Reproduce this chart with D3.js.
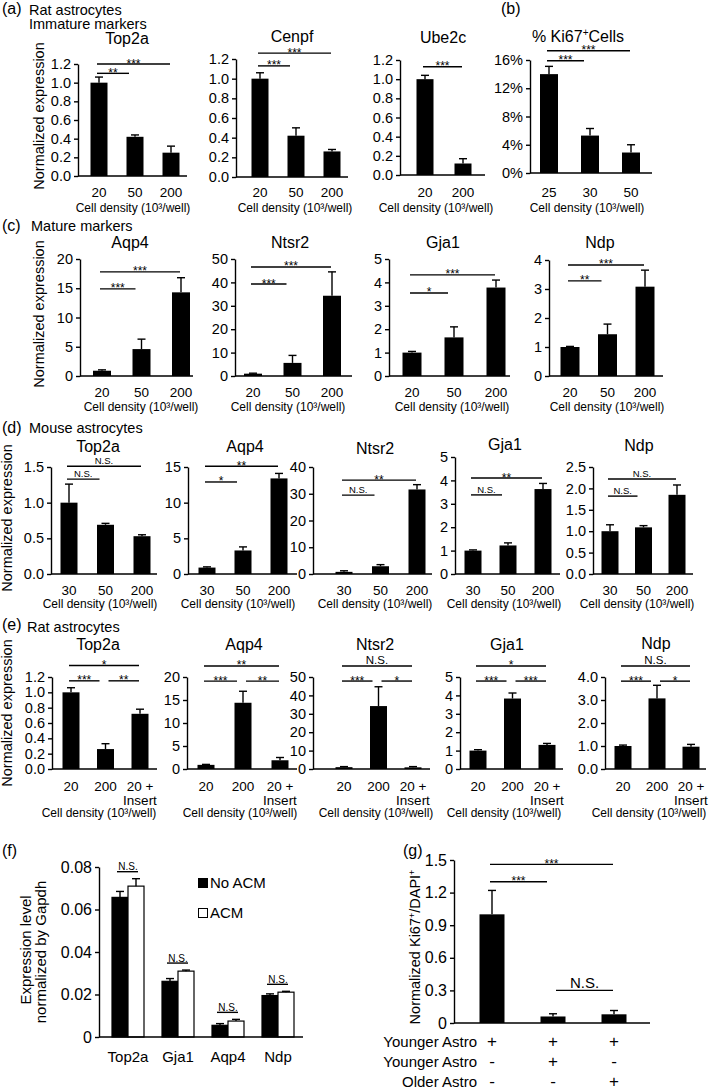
<!DOCTYPE html>
<html><head><meta charset="utf-8">
<script src="https://cdn.jsdelivr.net/npm/d3@7"></script>
<style>
body{margin:0;background:#fff}
text{font-family:"Liberation Sans",Arial,Helvetica,sans-serif;fill:#000}
</style>
</head><body>
<svg id="c" width="709" height="1091"></svg>
<script>
// ---------------- DATA ----------------
// (a) rat astrocytes, immature markers
const catsA = ["20", "50", "200"];
const catsA2 = ["20", "200"];
const top2aA = [1.0, 0.42, 0.25];
const top2aAErr = [0.06, 0.02, 0.07];
const top2aASig = [[0, 1, "**", 1.10], [0, 2, "***", 1.20]];
const cenpfA = [1.0, 0.42, 0.26];
const cenpfAErr = [0.06, 0.08, 0.02];
const cenpfASig = [[0, 1, "***", 1.13], [0, 2, "***", 1.26]];
const ube2cA = [1.0, 0.12];
const ube2cAErr = [0.04, 0.05];
const ube2cASig = [[0, 1, "***", 1.13]];
// (b) % Ki67+ cells
const catsB = ["25", "30", "50"];
const ki67B = [14.0, 5.3, 2.9];
const ki67BErr = [1.1, 1.0, 1.1];
const ki67BSig = [[0, 1, "***", 15.9], [0, 2, "***", 17.3]];
// (c) mature markers
const aqp4C = [0.9, 4.6, 14.3];
const aqp4CErr = [0.15, 1.7, 2.5];
const aqp4CSig = [[0, 1, "***", 14.9], [0, 2, "***", 17.8]];
const ntsr2C = [1.0, 5.6, 34.3];
const ntsr2CErr = [0.2, 3.2, 10.2];
const ntsr2CSig = [[0, 1, "***", 39.3], [0, 2, "***", 46.6]];
const gja1C = [1.0, 1.65, 3.78];
const gja1CErr = [0.05, 0.45, 0.32];
const gja1CSig = [[0, 1, "*", 3.55], [0, 2, "***", 4.32]];
const ndpC = [1.0, 1.44, 3.08];
const ndpCErr = [0.02, 0.35, 0.57];
const ndpCSig = [[0, 1, "**", 3.28], [0, 2, "***", 3.83]];
// (d) mouse astrocytes
const catsD = ["30", "50", "200"];
const top2aD = [1.0, 0.69, 0.53];
const top2aDErr = [0.26, 0.02, 0.02];
const top2aDSig = [[0, 1, "N.S.", 1.33], [0, 2, "N.S.", 1.51]];
const aqp4D = [0.9, 3.3, 13.4];
const aqp4DErr = [0.1, 0.5, 0.7];
const aqp4DSig = [[0, 1, "*", 12.9], [0, 2, "**", 15.1]];
const ntsr2D = [0.8, 2.9, 31.6];
const ntsr2DErr = [0.4, 0.6, 1.8];
const ntsr2DSig = [[0, 1, "N.S.", 29.5], [0, 2, "**", 35.1]];
const gja1D = [1.0, 1.22, 3.63];
const gja1DErr = [0.03, 0.11, 0.24];
const gja1DSig = [[0, 1, "N.S.", 3.38], [0, 2, "**", 4.1]];
const ndpD = [1.0, 1.09, 1.85];
const ndpDErr = [0.15, 0.04, 0.23];
const ndpDSig = [[0, 1, "N.S.", 1.82], [0, 2, "N.S.", 2.22]];
// (e) rat astrocytes with insert
const catsE = ["20", "200", "20 +\nInsert"];
const top2aE = [1.0, 0.26, 0.72];
const top2aEErr = [0.06, 0.07, 0.06];
const top2aESig = [[0, 1, "***", 1.15], [1, 2, "**", 1.15], [0, 2, "*", 1.35]];
const aqp4E = [0.9, 14.4, 1.9];
const aqp4EErr = [0.1, 2.5, 0.6];
const aqp4ESig = [[0, 1, "***", 19.1], [1, 2, "**", 19.1], [0, 2, "**", 22.4]];
const ntsr2E = [1.0, 34.2, 0.9];
const ntsr2EErr = [0.3, 10.5, 0.4];
const ntsr2ESig = [[0, 1, "***", 47.8], [1, 2, "*", 47.8], [0, 2, "N.S.", 56]];
const gja1E = [1.0, 3.83, 1.31];
const gja1EErr = [0.05, 0.3, 0.08];
const gja1ESig = [[0, 1, "***", 4.78], [1, 2, "***", 4.78], [0, 2, "*", 5.6]];
const ndpE = [1.0, 3.07, 0.97];
const ndpEErr = [0.04, 0.57, 0.1];
const ndpESig = [[0, 1, "***", 3.82], [1, 2, "*", 3.82], [0, 2, "N.S.", 4.48]];
// (f) ACM
const genesF = ["Top2a", "Gja1", "Aqp4", "Ndp"];
const noAcmF = [0.0657, 0.0262, 0.0055, 0.0195];
const noAcmFErr = [0.0028, 0.0013, 0.0008, 0.0008];
const acmF = [0.0710, 0.0310, 0.0075, 0.0211];
const acmFErr = [0.0035, 0.0005, 0.0008, 0.0004];
const seriesF = ["No ACM", "ACM"];
// (g) co-culture
const groupsG = ["g1", "g2", "g3"];
const kiG = [1.0, 0.06, 0.08];
const kiGErr = [0.22, 0.025, 0.035];
const sigG = [[0, 1, "***", 1.30], [0, 2, "***", 1.46], [1, 2, "N.S.", 0.30]];
const rowLabelsG = ["Younger Astro", "Younger Astro", "Older Astro"];
const rowSignsG = [["+", "+", "+"], ["-", "+", "-"], ["-", "-", "+"]];

// ---------------- DRAWING ----------------
const svg = d3.select("#c");
const SW = 1.4;
const TICKF = 14.5, CATF = 13.5;

function txt(g, x, y, s, size, anchor) {
  return g.append("text").attr("x", x).attr("y", y).attr("font-size", size)
    .attr("text-anchor", anchor || "start").text(s);
}
function hline(g, x1, x2, y) {
  g.append("line").attr("x1", x1).attr("x2", x2).attr("y1", y).attr("y2", y)
    .attr("stroke", "#000").attr("stroke-width", SW);
}
function cellDensity(g, x, y) {
  txt(g, x, y, "Cell density (10³/well)", 12, "middle");
}

function yAxis(g, y, cfg) {
  const ax = d3.axisLeft(y).tickValues(cfg.ticks).tickFormat(cfg.fmt)
    .tickSize(4).tickSizeOuter(0).tickPadding(3);
  const ag = g.append("g").attr("transform", `translate(${cfg.axisX},0)`).call(ax);
  ag.selectAll("path,line").attr("stroke", "#000").attr("stroke-width", SW);
  ag.selectAll("text").attr("font-size", cfg.tickFont || TICKF)
    .attr("font-family", '"Liberation Sans",Arial,sans-serif').attr("fill", "#000");
}

function errBar(g, cx, y0, y1) {
  g.append("line").attr("x1", cx).attr("x2", cx).attr("y1", y0).attr("y2", y1)
    .attr("stroke", "#000").attr("stroke-width", SW);
  hline(g, cx - 4, cx + 4, y1);
}

function panel(cfg, cats, vals, errs, sigs) {
  const g = svg.append("g");
  const y = d3.scaleLinear().domain([0, cfg.yMax]).range([cfg.yZero, cfg.yTop]);
  const x = d3.scalePoint().domain(cats).range(cfg.centers);
  const n = cats.length;
  g.selectAll("rect").data(vals).join("rect")
    .attr("x", (d, i) => x(cats[i]) - cfg.barW / 2).attr("width", cfg.barW)
    .attr("y", d => y(d)).attr("height", d => cfg.yZero - y(d)).attr("fill", "#000");
  vals.forEach((v, i) => errBar(g, x(cats[i]), y(v), y(v + errs[i])));
  yAxis(g, y, cfg);
  hline(g, cfg.axisX, cfg.xEnd, cfg.yZero);
  if (cfg.catY) cats.forEach(c => {
    c.split("\n").forEach((l, k) => txt(g, x(c), cfg.catY + k * 13.5, l, CATF, "middle"));
  });
  if (cfg.title) txt(g, cfg.titleX, cfg.titleY, cfg.title, 16, "middle");
  if (cfg.cdY) cellDensity(g, cfg.cdX, cfg.cdY);
  (sigs || []).forEach(([i, j, lab, lev]) => {
    const x1 = x(cats[i]) - 2 + (i > 0 ? 5 : 0);
    const x2 = x(cats[j]) - 1 - (j < n - 1 ? 5 : 0);
    const ly = y(lev);
    hline(g, x1, x2, ly);
    if (lab === "N.S.") txt(g, (x1 + x2) / 2, ly - 2, lab, cfg.nsFont || 9.5, "middle");
    else txt(g, (x1 + x2) / 2, ly + 3.5, lab, 12, "middle");
  });
  return { g, x, y };
}

// ---- headers ----
txt(svg, 2, 14, "(a)", 16);
txt(svg, 29, 15, "Rat astrocytes", 14.5);
txt(svg, 29, 29, "Immature markers", 14.5);
txt(svg, 501, 14, "(b)", 16);
txt(svg, 2, 231, "(c)", 16);
txt(svg, 31, 231, "Mature markers", 14.5);
txt(svg, 2, 433, "(d)", 16);
txt(svg, 29, 433, "Mouse astrocytes", 14.5);
txt(svg, 2, 630, "(e)", 16);
txt(svg, 27, 632, "Rat astrocytes", 14.5);
txt(svg, 2, 856, "(f)", 16);
txt(svg, 403, 856, "(g)", 16);

function ylab(x, y, s, size) {
  svg.append("text").attr("transform", `translate(${x},${y}) rotate(-90)`)
    .attr("font-size", size).attr("text-anchor", "middle").text(s);
}
ylab(44, 116, "Normalized expression", 14.5);
ylab(44, 314, "Normalized expression", 14.5);
ylab(12, 518, "Normalized expression", 14.5);
ylab(12, 713, "Normalized expression", 14.5);

const f1 = d3.format(".1f");
const fInt = d3.format("d");

// ---- (a) ----
panel({axisX: 78, xEnd: 187, yZero: 176, yTop: 64, yMax: 1.2, ticks: d3.range(0, 1.21, 0.2), fmt: f1,
  centers: [99, 171], barW: 17, catY: 197, title: "Top2a", titleX: 127, titleY: 44, cdX: 133, cdY: 212},
  catsA, top2aA, top2aAErr, top2aASig);
panel({axisX: 236, xEnd: 348, yZero: 177, yTop: 59, yMax: 1.2, ticks: d3.range(0, 1.21, 0.2), fmt: f1,
  centers: [260, 332], barW: 17, catY: 197, title: "Cenpf", titleX: 292, titleY: 42, cdX: 295, cdY: 212},
  catsA, cenpfA, cenpfAErr, cenpfASig);
panel({axisX: 400, xEnd: 485, yZero: 175, yTop: 60, yMax: 1.2, ticks: d3.range(0, 1.21, 0.2), fmt: f1,
  centers: [425, 463], barW: 17, catY: 197, title: "Ube2c", titleX: 443, titleY: 43, cdX: 436, cdY: 212},
  catsA2, ube2cA, ube2cAErr, ube2cASig);
// (b)
panel({axisX: 530, xEnd: 652, yZero: 173, yTop: 60, yMax: 16, ticks: [0, 4, 8, 12, 16], fmt: d => d + "%",
  centers: [549, 631], barW: 18, catY: 197, title: null, cdX: 587, cdY: 212},
  catsB, ki67B, ki67BErr, ki67BSig);
{
  const t = svg.append("text").attr("x", 578).attr("y", 42).attr("font-size", 16).attr("text-anchor", "middle");
  t.append("tspan").text("% Ki67");
  t.append("tspan").attr("font-size", 10).attr("dy", -6).text("+");
  t.append("tspan").attr("dy", 6).text("Cells");
}

// ---- (c) ----
panel({axisX: 80, xEnd: 193, yZero: 376, yTop: 259, yMax: 20, ticks: d3.range(0, 21, 5), fmt: fInt,
  centers: [102, 181], barW: 18, catY: 397, title: "Aqp4", titleX: 130, titleY: 248, cdX: 141, cdY: 411},
  catsA, aqp4C, aqp4CErr, aqp4CSig);
panel({axisX: 235, xEnd: 352, yZero: 376, yTop: 259, yMax: 50, ticks: d3.range(0, 51, 10), fmt: fInt,
  centers: [253, 332], barW: 18, catY: 397, title: "Ntsr2", titleX: 290, titleY: 248, cdX: 288, cdY: 411},
  catsA, ntsr2C, ntsr2CErr, ntsr2CSig);
panel({axisX: 389, xEnd: 510, yZero: 376, yTop: 259, yMax: 5, ticks: d3.range(0, 6, 1), fmt: fInt,
  centers: [412, 496], barW: 19, catY: 397, title: "Gja1", titleX: 443, titleY: 248, cdX: 452, cdY: 411},
  catsA, gja1C, gja1CErr, gja1CSig);
panel({axisX: 549, xEnd: 663, yZero: 376, yTop: 260, yMax: 4, ticks: d3.range(0, 5, 1), fmt: fInt,
  centers: [570, 645], barW: 19, catY: 397, title: "Ndp", titleX: 600, titleY: 248, cdX: 607, cdY: 411},
  catsA, ndpC, ndpCErr, ndpCSig);

// ---- (d) ----
panel({axisX: 51, xEnd: 157, yZero: 574, yTop: 467, yMax: 1.5, ticks: d3.range(0, 1.51, 0.5), fmt: f1,
  centers: [69, 142], barW: 17, catY: 595, title: "Top2a", titleX: 98, titleY: 452, cdX: 100, cdY: 608},
  catsD, top2aD, top2aDErr, top2aDSig);
panel({axisX: 188, xEnd: 297, yZero: 574, yTop: 467, yMax: 15, ticks: d3.range(0, 16, 5), fmt: fInt,
  centers: [207, 279], barW: 17, catY: 595, title: "Aqp4", titleX: 245, titleY: 452, cdX: 238, cdY: 608},
  catsD, aqp4D, aqp4DErr, aqp4DSig);
panel({axisX: 313, xEnd: 432, yZero: 574, yTop: 467, yMax: 40, ticks: d3.range(0, 41, 10), fmt: fInt,
  centers: [344, 417], barW: 17, catY: 595, title: "Ntsr2", titleX: 375, titleY: 454, cdX: 375, cdY: 608},
  catsD, ntsr2D, ntsr2DErr, ntsr2DSig);
panel({axisX: 455, xEnd: 560, yZero: 574, yTop: 457, yMax: 5, ticks: d3.range(0, 6, 1), fmt: fInt,
  centers: [473, 543], barW: 17, catY: 595, title: "Gja1", titleX: 505, titleY: 450, cdX: 504, cdY: 608},
  catsD, gja1D, gja1DErr, gja1DSig);
panel({axisX: 593, xEnd: 693, yZero: 574, yTop: 467, yMax: 2.5, ticks: d3.range(0, 2.51, 0.5), fmt: f1,
  centers: [610, 677], barW: 17, catY: 595, title: "Ndp", titleX: 639, titleY: 451, cdX: 637, cdY: 608},
  catsD, ndpD, ndpDErr, ndpDSig);

// ---- (e) ----
panel({axisX: 52, xEnd: 157, yZero: 769, yTop: 677, yMax: 1.2, ticks: d3.range(0, 1.21, 0.2), fmt: f1,
  centers: [71, 140], barW: 17, catY: 791, title: "Top2a", titleX: 98, titleY: 650, cdX: 99, cdY: 817, nsFont: 11.5},
  catsE, top2aE, top2aEErr, top2aESig);
panel({axisX: 187, xEnd: 297, yZero: 769, yTop: 677, yMax: 20, ticks: d3.range(0, 21, 5), fmt: fInt,
  centers: [206, 280], barW: 17, catY: 791, title: "Aqp4", titleX: 244, titleY: 650, cdX: 240, cdY: 817, nsFont: 11.5},
  catsE, aqp4E, aqp4EErr, aqp4ESig);
panel({axisX: 313, xEnd: 430, yZero: 769, yTop: 677, yMax: 50, ticks: d3.range(0, 51, 10), fmt: fInt,
  centers: [344, 413], barW: 17, catY: 791, title: "Ntsr2", titleX: 375, titleY: 650, cdX: 376, cdY: 817, nsFont: 11.5},
  catsE, ntsr2E, ntsr2EErr, ntsr2ESig);
panel({axisX: 460, xEnd: 563, yZero: 769, yTop: 677, yMax: 5, ticks: d3.range(0, 6, 1), fmt: fInt,
  centers: [478, 547], barW: 17, catY: 791, title: "Gja1", titleX: 507, titleY: 650, cdX: 504, cdY: 817, nsFont: 11.5},
  catsE, gja1E, gja1EErr, gja1ESig);
panel({axisX: 605, xEnd: 706, yZero: 769, yTop: 677, yMax: 4, ticks: d3.range(0, 5, 1), fmt: f1,
  centers: [623, 691], barW: 17, catY: 791, title: "Ndp", titleX: 656, titleY: 649, cdX: 649, cdY: 817, nsFont: 11.5},
  catsE, ndpE, ndpEErr, ndpESig);

// ---- (f) ----
{
  const cfg = {axisX: 99, xEnd: 303, yZero: 1037, yTop: 867, yMax: 0.08,
    ticks: d3.range(0, 0.081, 0.02), fmt: d => d === 0 ? "0" : d3.format(".2f")(d), tickFont: 16};
  const g = svg.append("g");
  const y = d3.scaleLinear().domain([0, cfg.yMax]).range([cfg.yZero, cfg.yTop]);
  const x = d3.scalePoint().domain(genesF).range([128, 278]);
  const bw = 16;
  const xs = d3.scaleBand().domain(seriesF).range([-bw, bw]);
  const sets = [[noAcmF, noAcmFErr, "#000"], [acmF, acmFErr, "#fff"]];
  sets.forEach(([vals, errs, fill], s) => {
    g.selectAll(null).data(vals).join("rect")
      .attr("x", (d, i) => x(genesF[i]) + xs(seriesF[s])).attr("width", bw)
      .attr("y", d => y(d)).attr("height", d => cfg.yZero - y(d))
      .attr("fill", fill).attr("stroke", "#000").attr("stroke-width", 1.2);
    vals.forEach((v, i) => errBar(g, x(genesF[i]) + xs(seriesF[s]) + bw / 2, y(v), y(v + errs[i])));
  });
  yAxis(g, y, cfg);
  hline(g, cfg.axisX, cfg.xEnd, cfg.yZero);
  genesF.forEach((gn, i) => {
    txt(g, x(gn), 1062, gn, 15, "middle");
    const top = Math.max(noAcmF[i] + noAcmFErr[i], acmF[i] + acmFErr[i]);
    const ly = y(top) - 7;
    hline(g, x(gn) - 11, x(gn) + 10, ly);
    txt(g, x(gn), ly - 1.5, "N.S.", 10, "middle");
  });
  // legend
  g.append("rect").attr("x", 198).attr("y", 878).attr("width", 10).attr("height", 10).attr("fill", "#000");
  txt(g, 210, 888, seriesF[0], 15);
  g.append("rect").attr("x", 198.5).attr("y", 908.5).attr("width", 9).attr("height", 9)
    .attr("fill", "#fff").attr("stroke", "#000").attr("stroke-width", 1);
  txt(g, 210, 918, seriesF[1], 15);
  g.append("text").attr("transform", "translate(31,950) rotate(-90)")
    .attr("font-size", 15).attr("text-anchor", "middle").text("Expression level");
  g.append("text").attr("transform", "translate(46,952) rotate(-90)")
    .attr("font-size", 15).attr("text-anchor", "middle").text("normalized by Gapdh");
}

// ---- (g) ----
{
  const cfg = {axisX: 454, xEnd: 650, yZero: 1023, yTop: 860, yMax: 1.5, ticks: d3.range(0, 1.51, 0.3),
    fmt: d => d === 0 ? "0" : d3.format(".1f")(d), centers: [492, 614], barW: 25, tickFont: 16, nsFont: 15};
  const p = panel(cfg, groupsG, kiG, kiGErr, sigG);
  rowLabelsG.forEach((lab, r) => {
    const by = 1047 + r * 20;
    txt(svg, 477, by, lab, 15, "end");
    rowSignsG[r].forEach((s, i) => txt(svg, p.x(groupsG[i]), by, s, 17, "middle"));
  });
  const t = svg.append("text").attr("transform", "translate(420,947) rotate(-90)")
    .attr("font-size", 14.5).attr("text-anchor", "middle");
  t.append("tspan").text("Normalized Ki67");
  t.append("tspan").attr("font-size", 9).attr("dy", -5).text("+");
  t.append("tspan").attr("dy", 5).text("/DAPI");
  t.append("tspan").attr("font-size", 9).attr("dy", -5).text("+");
}
</script>
</body></html>
